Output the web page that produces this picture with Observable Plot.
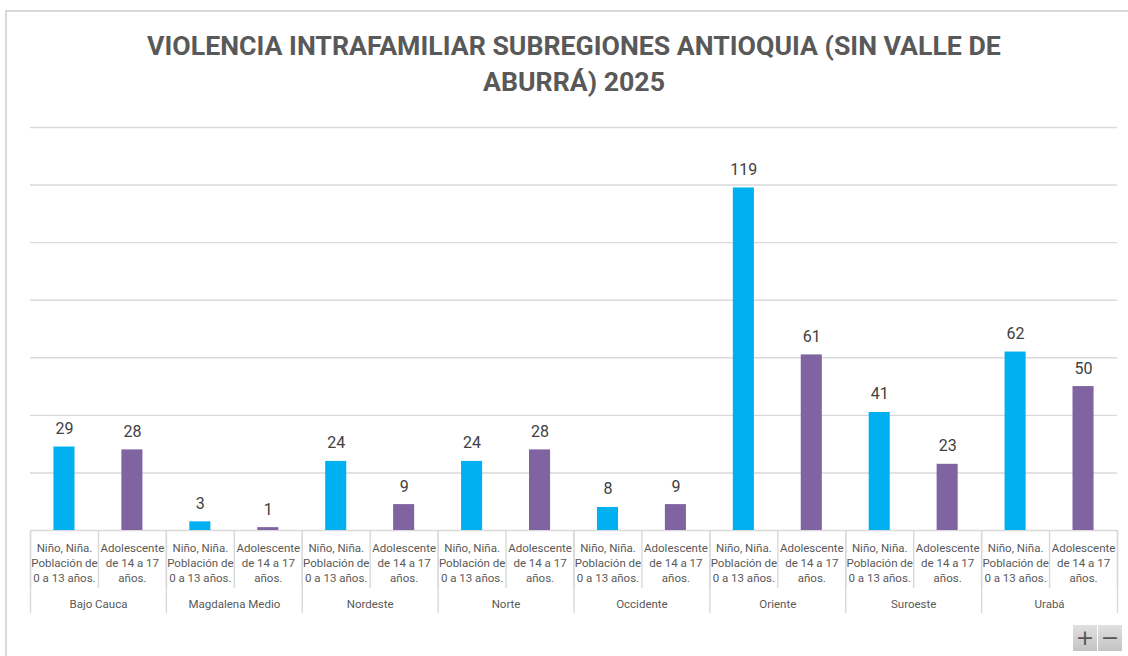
<!DOCTYPE html>
<html>
<head>
<meta charset="utf-8">
<script src="https://cdn.jsdelivr.net/npm/d3@7"></script>
<script src="https://cdn.jsdelivr.net/npm/@observablehq/plot@0.6"></script>
<style>
  html, body { margin: 0; padding: 0; background: #fff; }
  #wrap { position: relative; width: 1128px; height: 656px; overflow: hidden; font-family: Roboto, sans-serif; }
  #frame { position: absolute; left: 5px; top: 10px; width: 1200px; height: 700px; border-left: 2px solid #d9d9d9; border-top: 2px solid #d9d9d9; box-sizing: border-box; }
  #title { position: absolute; left: 0; top: 28px; width: 1148px; text-align: center; font-family: Roboto, sans-serif; font-weight: bold; font-size: 26.7px; line-height: 36px; color: #595959; }
  #chart { position: absolute; left: 0; top: 100px; }
  .btn { position: absolute; top: 625px; width: 24px; height: 26px; background: linear-gradient(#e0e0e0, #c4c4c4); color: #555; font: 22px/26px "DejaVu Sans", sans-serif; text-align: center; }
</style>
</head>
<body>
<div id="wrap">
  <div id="frame"></div>
  <div id="title">VIOLENCIA INTRAFAMILIAR SUBREGIONES ANTIOQUIA (SIN VALLE DE<br>ABURRÁ) 2025</div>
  <div id="chart"></div>
  <div class="btn" style="left:1073px">+</div>
  <div class="btn" style="left:1098px">−</div>
</div>
<script>
const regions = ["Bajo Cauca", "Magdalena Medio", "Nordeste", "Norte", "Occidente", "Oriente", "Suroeste", "Urabá"];
const ninos = [29, 3, 24, 24, 8, 119, 41, 62];
const adolescentes = [28, 1, 9, 28, 9, 61, 23, 50];
const groups = ["Niño, Niña.\nPoblación de\n0 a 13 años.", "Adolescente\nde 14 a 17\naños."];
const groupColors = ["#00B0F0", "#8064A2"];
const yTicks = [0, 20, 40, 60, 80, 100, 120, 140];

const data = [];
regions.forEach((r, i) => {
  data.push({key: r + "|0", region: r, group: groups[0], value: ninos[i]});
  data.push({key: r + "|1", region: r, group: groups[1], value: adolescentes[i]});
});
const keys = data.map(d => d.key);
const firstKeys = regions.map(r => r + "|0");
const lastKey = keys[keys.length - 1];

const width = 1128, height = 530, mLeft = 30, mRight = 11;
const half = (width - mLeft - mRight) / keys.length / 2;

const chart = Plot.plot({
  width, height,
  marginLeft: mLeft, marginRight: mRight, marginTop: 27, marginBottom: 100,
  x: {domain: keys, paddingInner: 0.69, paddingOuter: 0.345, round: false},
  y: {domain: [0, 140], axis: null},
  color: {domain: groups, range: groupColors},
  style: {fontFamily: "Roboto, sans-serif", overflow: "visible"},
  marks: [
    Plot.gridY(yTicks, {stroke: "#d9d9d9", strokeOpacity: 1, strokeWidth: 1.4}),
    Plot.barY(data, {x: "key", y: "value", fill: "group"}),
    Plot.text(data, {x: "key", y: "value", text: d => String(d.value), lineAnchor: "bottom", dy: -13, fontSize: 16, fill: "#404040"}),
    Plot.axisX({ticks: keys, tickSize: 58, dx: -half, tickFormat: () => "", stroke: "#d9d9d9", strokeWidth: 1.4, label: null}),
    Plot.axisX({ticks: [lastKey], tickSize: 58, dx: half, tickFormat: () => "", stroke: "#d9d9d9", strokeWidth: 1.4, label: null}),
    Plot.axisX({ticks: firstKeys, tickSize: 83, dx: -half, tickFormat: () => "", stroke: "#d9d9d9", strokeWidth: 1.4, label: null}),
    Plot.axisX({ticks: [lastKey], tickSize: 83, dx: half, tickFormat: () => "", stroke: "#d9d9d9", strokeWidth: 1.4, label: null}),
    Plot.text(data, {x: "key", text: "group", frameAnchor: "bottom", lineAnchor: "top", dy: 11, lineHeight: 1.3, fontSize: 11.5, fill: "#595959"}),
    Plot.text(regions.map((r, i) => ({key: firstKeys[i], region: r})), {x: "key", text: "region", frameAnchor: "bottom", lineAnchor: "middle", dy: 74, dx: half, fontSize: 11.5, fill: "#595959"})
  ]
});
document.getElementById("chart").appendChild(chart);
</script>
</body>
</html>
